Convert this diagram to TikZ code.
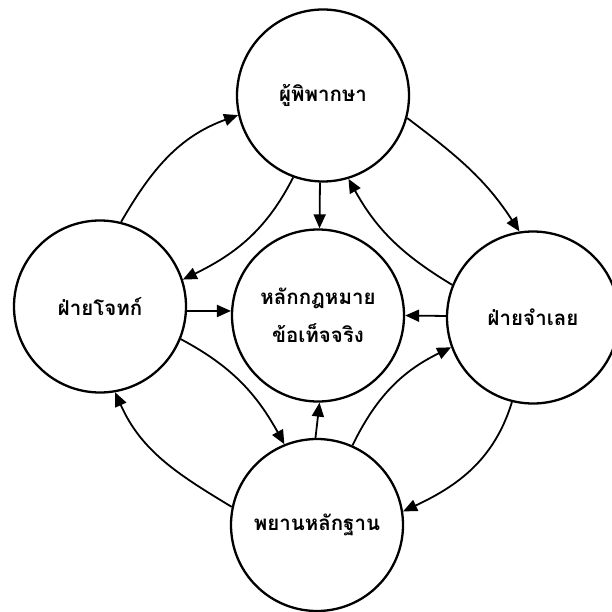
\documentclass[tikz,border=0pt]{standalone}
\usepackage{fontspec}
\newfontfamily\thaifont[Script=Thai]{Loma}
\usetikzlibrary{arrows.meta}
\begin{document}
\begin{tikzpicture}[x=1pt,y=1pt,
  circ/.style={circle,draw,line width=2.3pt,minimum size=172pt,inner sep=0pt,
    font=\thaifont\bfseries\fontsize{20.5}{38}\selectfont,align=center},
  conn/.style={line width=1.8pt,-{Triangle[length=14pt,width=12pt]}}]
\useasboundingbox (0,0) rectangle (612,611);
\node[circ] (T) at (323,515.5) {ผู้พิพากษา};
\node[circ] (L) at (100,304.5) {ฝ่ายโจทก์};
\node[circ] (C) at (318,295.5) {หลักกฎหมาย\\ข้อเท็จจริง};
\node[circ] (R) at (533,293.5) {ฝ่ายจำเลย};
\node[circ] (B) at (317,86) {พยานหลักฐาน};
\draw[conn] (L.76) to[out=60,in=200] (T.193);
\draw[conn] (T.250) to[out=243,in=26] (L.18.5);
\draw[conn] (T.268) -- (C.89);
\draw[conn] (T.345) to[out=-37,in=123] (R.99);
\draw[conn] (R.158) to[out=149,in=-61] (T.287);
\draw[conn] (R.179) -- (C.0);
\draw[conn] (L.-3) -- (C.177);
\draw[conn] (L.-22) to[out=-28,in=119] (B.112.5);
\draw[conn] (B.168.6) to[out=149,in=294] (L.280.6);
\draw[conn] (B.91) -- (C.271);
\draw[conn] (B.66) to[out=64,in=206] (R.200.7);
\draw[conn] (R.256.7) to[out=253,in=25] (B.9);
\end{tikzpicture}
\end{document}
